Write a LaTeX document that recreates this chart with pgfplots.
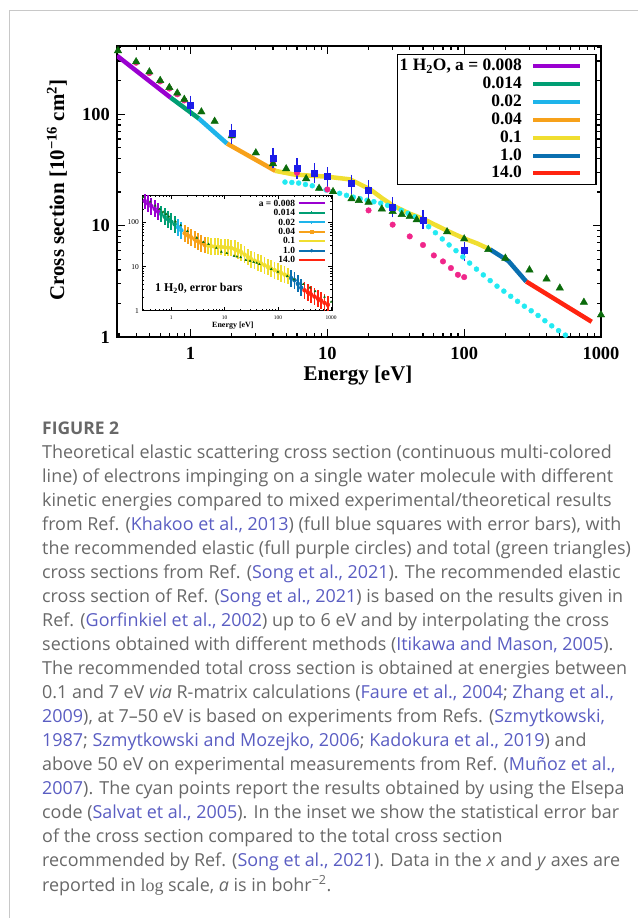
\documentclass[border=0pt]{standalone}
\usepackage{pgfplots}
\pgfplotsset{compat=1.18}
\usepackage{fontspec}
\setmainfont{Liberation Serif}
\newfontfamily\capfont{Open Sans}
\definecolor{cPurple}{HTML}{9A00D0}
\definecolor{cGreen}{HTML}{009E73}
\definecolor{cCyan}{HTML}{1EB4EA}
\definecolor{cOrange}{HTML}{F7A11A}
\definecolor{cYellow}{HTML}{F0DE30}
\definecolor{cBlue}{HTML}{0A6FB0}
\definecolor{cRed}{HTML}{FF2410}
\definecolor{cElsepa}{HTML}{22EAF2}
\definecolor{cPink}{HTML}{F0268A}
\definecolor{cTri}{HTML}{0B6B0B}
\definecolor{cSq}{HTML}{1C1CE8}
\definecolor{capgray}{HTML}{686868}
\definecolor{linkc}{HTML}{5A5DC2}
\definecolor{framegray}{HTML}{C8C8C8}
\newcommand{\cit}[1]{\textcolor{linkc}{#1}}

\pgfplotstableread{
E v
0.295 372
0.4 296
0.5 240
0.6 201
0.7 174
0.8 155
0.9 136
1.2 105
1.5 86.5
2 64
3 45
4 36
5 32.4
7 26.4
8.7 21.6
11 20.2
15 17.4
17 16.8
20 16.2
25 14.1
30 13.4
35 12.6
40 12.1
45 11.3
75 8.8
100 7.6
150 6.1
200 5.1
300 4.0
400 3.32
500 2.75
750 2.05
1000 1.58
}\tritable

\pgfplotstableread{
E v
0.4 290
0.5 234
0.6 197
0.7 170
0.8 151
0.9 133
1 118
2 64
4 36.5
6 29.8
10 21.1
20 13.7
30 10.2
40 8.0
50 6.7
60 5.4
70 4.77
80 4.16
90 3.62
100 3.45
}\pinktable

\pgfplotstableread{
E v
4.90 24.6
5.50 24.4
6.17 24.1
6.92 23.4
7.76 22.8
8.71 21.7
9.77 20.9
10.96 20.2
12.30 19.5
13.80 18.7
15.49 18.0
17.38 17.4
19.50 16.9
21.88 16.4
24.55 15.9
27.54 15.2
30.90 14.5
34.67 13.7
38.90 12.9
43.65 12.0
48.98 11.0
54.95 9.77
61.66 8.63
69.18 7.59
77.62 6.71
87.10 5.96
97.72 5.24
109.6 4.61
123.0 4.07
138.0 3.61
154.9 3.21
173.8 2.86
195.0 2.58
218.8 2.32
245.5 2.09
275.4 1.89
309.0 1.72
346.7 1.56
389.0 1.40
436.5 1.26
489.8 1.14
549.5 1.04
}\cyantable

\pgfplotstableread{
E v ep em
1 120 18 18
2 67.4 9.6 10.4
4 40.7 6.3 6
6 33.1 4.9 5.1
8 29.4 4.8 3.8
10 27.5 4 4.1
15 23.9 3 3.5
20 20.8 3.1 3
30 14.7 2.2 2.1
50 11.3 1.7 1.4
100 6.0 0.7 0.9
}\sqtable

% inset error bars: energy, centre, upper and lower errors
\pgfplotstableread{
E c ep em
0.316 308 169 109
0.365 268 147 95
0.422 234 129 83
0.487 204 112 72
0.562 177 97 63
}\barPurple
\pgfplotstableread{
E c ep em
0.649 155 85 55
0.750 135 74 48
0.866 118 65 42
1.000 104 57 37
1.155 91 50 32
}\barGreen
\pgfplotstableread{
E c ep em
1.334 77.8 42.8 27.6
1.540 66.5 36.6 23.6
}\barCyan
\pgfplotstableread{
E c ep em
1.778 56.9 31.3 20.2
2.054 50.6 27.8 18.0
2.371 45.8 25.2 16.3
2.738 41.5 22.8 14.7
3.162 37.5 20.6 13.3
3.652 34.0 18.7 12.1
4.217 30.9 17.0 11.0
}\barOrange
\pgfplotstableread{
E c ep em
4.870 29.9 16.4 10.6
5.623 28.8 15.8 10.2
6.494 28.5 15.7 10.1
7.499 28.1 15.5 10.0
8.660 27.8 15.3 9.9
10.00 27.5 15.1 9.8
11.55 26.9 14.8 9.5
13.34 26.4 14.5 9.4
15.40 25.2 13.9 8.9
17.78 23.1 12.7 8.2
20.54 21.1 11.6 7.5
23.71 18.7 10.3 6.6
27.38 16.4 9.0 5.8
31.62 14.7 8.1 5.2
36.52 13.6 7.5 4.8
42.17 12.6 6.9 4.5
48.70 11.7 6.4 4.2
56.23 10.7 5.9 3.8
64.94 9.82 5.40 3.49
74.99 9.0 4.95 3.20
86.60 8.30 4.57 2.95
100.0 7.65 4.21 2.72
115.5 7.10 3.91 2.52
133.4 6.59 3.62 2.34
154.0 6.11 3.36 2.17
}\barYellow
\pgfplotstableread{
E c ep em
177.8 5.47 3.01 1.94
205.4 4.90 2.70 1.74
237.1 4.06 2.23 1.44
273.8 3.31 1.82 1.18
}\barBlue
\pgfplotstableread{
E c ep em
316.2 2.90 1.60 1.03
365.2 2.60 1.43 0.92
421.7 2.33 1.28 0.83
487.0 2.09 1.15 0.74
562.3 1.88 1.03 0.67
649.4 1.69 0.93 0.60
749.9 1.51 0.83 0.54
866.0 1.36 0.75 0.48
}\barRed

\pgfplotsset{
  ebar/.style={only marks, mark=none, color=#1,
    error bars/.cd, y dir=both, y explicit, error mark=none,
    error bar style={line width=1.8bp, solid, draw=#1}},
}

\begin{document}
\begin{tikzpicture}
\path[use as bounding box] (0bp,0bp) rectangle (638bp,918bp);
\draw[framegray, line width=1bp] (9bp,0bp) -- (9bp,907bp) -- (638bp,907bp);

% ---------------- main axis ----------------
\begin{axis}[
  at={(117bp,581bp)}, anchor=south west, scale only axis,
  width=484bp, height=291bp,
  xmode=log, ymode=log, xmin=0.29, xmax=1000, ymin=1, ymax=410,
  xtick={1,10,100,1000}, xticklabels={1,10,100,1000},
  ytick={1,10,100}, yticklabels={1,10,100},
  minor xtick={0.3,0.4,0.5,0.6,0.7,0.8,0.9,2,3,4,5,6,7,8,9,20,30,40,50,60,70,80,90,200,300,400,500,600,700,800,900},
  minor ytick={2,3,4,5,6,7,8,9,20,30,40,50,60,70,80,90,200,300,400},
  tick pos=both, tick align=inside,
  major tick length=8bp, minor tick length=4bp,
  every tick/.style={black, line width=1.2bp},
  axis line style={line width=2.2bp},
  /pgf/number format/assume math mode=true,
  ticklabel style={font=\fontsize{18.5}{18.5}\selectfont\bfseries},
  xticklabel style={yshift=-7bp}, yticklabel style={xshift=-3.7bp},
  xlabel={Energy [eV]},
  ylabel={Cross section [10\textsuperscript{−16} cm\textsuperscript{2}]},
  label style={font=\fontsize{21}{21}\selectfont\bfseries},
  xlabel style={at={(axis description cs:0.498,-0.134)}, anchor=center},
  ylabel style={at={(axis description cs:-0.124,0.505)}, anchor=center},
  legend cell align=right, legend plot pos=right,
  legend style={at={(0.991,0.9725)}, anchor=north east, draw=black, line width=1.2bp,
    fill=white, font=\fontsize{17.5}{17.5}\selectfont\bfseries,
    inner xsep=2bp, inner ysep=2.5bp, row sep=0pt,
    nodes={inner sep=0pt, text height=13.5bp, text depth=4.4bp}},
  legend image code/.code={\draw[#1, line width=4bp] (0bp,0bp) -- (47bp,0bp); \path (-11bp,0bp) (60bp,0bp);},
]
\addlegendimage{cPurple}\addlegendentry{1 H\textsubscript{2}O, a = 0.008}
\addlegendimage{cGreen}\addlegendentry{0.014}
\addlegendimage{cCyan}\addlegendentry{0.02}
\addlegendimage{cOrange}\addlegendentry{0.04}
\addlegendimage{cYellow}\addlegendentry{0.1}
\addlegendimage{cBlue}\addlegendentry{1.0}
\addlegendimage{cRed}\addlegendentry{14.0}

\addplot[cPurple, line width=4.5bp] coordinates {(0.29,335) (0.715,141)};
\addplot[cGreen, line width=4.5bp] coordinates {(0.715,141) (1.15,91.5)};
\addplot[cCyan, line width=4.5bp] coordinates {(1.15,91.5) (1.85,54.5)};
\addplot[cOrange, line width=4.5bp] coordinates {(1.85,54.5) (4.17,31)};
\addplot[cYellow, line width=4.5bp, line join=round] coordinates {(4.17,31) (5.68,28.8) (7.5,28.1) (9.95,27.5) (14.7,26) (17.8,23.1) (20.6,21.1) (25,17.7) (30.5,15) (40,12.8) (50,11.5) (75,9) (99,7.7) (125,6.9) (155,6.1)};
\addplot[cBlue, line width=4.5bp, line join=round] coordinates {(155,6.1) (211,4.8) (284,3.15)};
\addplot[cRed, line width=4.5bp] coordinates {(284,3.15) (855,1.37)};

\addplot[only marks, mark=*, mark size=2.5bp, color=cElsepa] table[x=E,y=v] {\cyantable};
\addplot[only marks, mark=*, mark size=2.8bp, color=cPink] table[x=E,y=v] {\pinktable};
\addplot[only marks, mark=triangle*, mark size=4.3bp, color=cTri] table[x=E,y=v] {\tritable};
\addplot[only marks, mark=square*, mark size=3bp, color=cSq,
  error bars/.cd, y dir=both, y explicit, error mark=-,
  error bar style={line width=1.2bp, cSq},
  error mark options={mark size=3bp, line width=1.2bp, cSq}]
  table[x=E, y=v, y error plus=ep, y error minus=em] {\sqtable};
\end{axis}

% ---------------- inset ----------------
\begin{axis}[
  at={(142.3bp,607.3bp)}, anchor=south west, scale only axis,
  width=190bp, height=115.7bp,
  xmode=log, ymode=log, xmin=0.285, xmax=1050, ymin=1, ymax=420,
  axis background/.style={fill=white},
  xtick={1,10,100,1000}, xticklabels={1,10,100,1000},
  ytick={1,10,100}, yticklabels={1,10,100},
  minor xtick={0.3,0.4,0.5,0.6,0.7,0.8,0.9,2,3,4,5,6,7,8,9,20,30,40,50,60,70,80,90,200,300,400,500,600,700,800,900},
  minor ytick={2,3,4,5,6,7,8,9,20,30,40,50,60,70,80,90,200,300,400},
  tick pos=both, tick align=inside,
  major tick length=4bp, minor tick length=2bp,
  every tick/.style={black, line width=0.6bp},
  axis line style={line width=0.9bp},
  /pgf/number format/assume math mode=true,
  xticklabel style={font=\fontsize{5.5}{5.5}\selectfont, yshift=-1.5bp},
  yticklabel style={font=\fontsize{7.5}{7.5}\selectfont},
  xlabel={Energy [eV]},
  xlabel style={font=\fontsize{8}{8}\selectfont\bfseries, at={(axis description cs:0.477,-0.13)}, anchor=center},
  legend cell align=right, legend plot pos=right,
  legend style={at={(0.967,0.97)}, anchor=north east, draw=none, fill=none,
    font=\fontsize{9.5}{9.5}\selectfont\bfseries, inner sep=0pt, row sep=0pt,
    nodes={inner sep=0pt, text height=7.5bp, text depth=1.95bp}},
  legend image code/.code={\draw[line width=1.8bp, mark repeat=2, mark phase=2, #1] plot coordinates {(0bp,0bp) (13bp,0bp) (26bp,0bp)}; \path (-3.4bp,0bp) (27bp,0bp);},
]
\addlegendimage{cPurple}\addlegendentry{a = 0.008}
\addlegendimage{cGreen, mark=+, mark size=1.6bp, mark options={line width=0.7bp}}\addlegendentry{0.014}
\addlegendimage{cCyan, mark=+, mark size=1.6bp, mark options={line width=0.7bp}}\addlegendentry{0.02}
\addlegendimage{cOrange, mark=square*, mark size=1.5bp, mark options={line width=0.4bp}}\addlegendentry{0.04}
\addlegendimage{cYellow}\addlegendentry{0.1}
\addlegendimage{cBlue, mark=*, mark size=1.5bp, mark options={line width=0.4bp}}\addlegendentry{1.0}
\addlegendimage{cRed}\addlegendentry{14.0}

\addplot[ebar=cPurple] table[x=E, y=c, y error plus=ep, y error minus=em] {\barPurple};
\addplot[ebar=cGreen] table[x=E, y=c, y error plus=ep, y error minus=em] {\barGreen};
\addplot[ebar=cCyan] table[x=E, y=c, y error plus=ep, y error minus=em] {\barCyan};
\addplot[ebar=cOrange] table[x=E, y=c, y error plus=ep, y error minus=em] {\barOrange};
\addplot[ebar=cYellow] table[x=E, y=c, y error plus=ep, y error minus=em] {\barYellow};
\addplot[ebar=cBlue] table[x=E, y=c, y error plus=ep, y error minus=em] {\barBlue};
\addplot[ebar=cRed] table[x=E, y=c, y error plus=ep, y error minus=em] {\barRed};
\addplot[only marks, mark=triangle*, mark size=1.1bp, color=cTri] table[x=E,y=v] {\tritable};

\node[anchor=west, inner sep=0pt, font=\fontsize{12}{12}\selectfont\bfseries] at (axis description cs:0.067,0.194) {1 H\textsubscript{2}0, error bars};
\end{axis}

% ---------------- caption ----------------
\begin{scope}[every node/.style={anchor=base west, inner sep=0pt, text=capgray, font=\capfont\fontsize{18}{18}\selectfont}]
\node[font=\capfont\bfseries\fontsize{17.5}{17.5}\selectfont] at (42bp,483bp) {FIGURE 2};
\node at (42bp,459bp) {Theoretical elastic scattering cross section (continuous multi-colored};
\node at (42bp,435bp) {line) of electrons impinging on a single water molecule with different};
\node at (42bp,411bp) {kinetic energies compared to mixed experimental/theoretical results};
\node at (42bp,387bp) {from Ref. (\cit{Khakoo et al., 2013}) (full blue squares with error bars), with};
\node at (42bp,363bp) {the recommended elastic (full purple circles) and total (green triangles)};
\node at (42bp,339bp) {cross sections from Ref. (\cit{Song et al., 2021}). The recommended elastic};
\node at (42bp,315bp) {cross section of Ref. (\cit{Song et al., 2021}) is based on the results given in};
\node at (42bp,291bp) {Ref. (\cit{Gorfinkiel et al., 2002}) up to 6 eV and by interpolating the cross};
\node at (42bp,267bp) {sections obtained with different methods (\cit{Itikawa and Mason, 2005}).};
\node at (42bp,243bp) {The recommended total cross section is obtained at energies between};
\node at (42bp,219bp) {0.1 and 7 eV \textit{via} R-matrix calculations (\cit{Faure et al., 2004}; \cit{Zhang et al.,}};
\node at (42bp,195bp) {\cit{2009}), at 7–50 eV is based on experiments from Refs. (\cit{Szmytkowski,}};
\node at (42bp,171bp) {\cit{1987}; \cit{Szmytkowski and Mozejko, 2006}; \cit{Kadokura et al., 2019}) and};
\node at (42bp,147bp) {above 50 eV on experimental measurements from Ref. (\cit{Muñoz et al.,}};
\node at (42bp,123bp) {\cit{2007}). The cyan points report the results obtained by using the Elsepa};
\node at (42bp,99bp) {code (\cit{Salvat et al., 2005}). In the inset we show the statistical error bar};
\node at (42bp,75bp) {of the cross section compared to the total cross section};
\node at (42bp,51bp) {recommended by Ref. (\cit{Song et al., 2021}). Data in the \textit{x} and \textit{y} axes are};
\node at (42bp,27bp) {reported in {\rmfamily log} scale, \textit{a} is in bohr\textsuperscript{−2}.};
\end{scope}
\end{tikzpicture}
\end{document}
